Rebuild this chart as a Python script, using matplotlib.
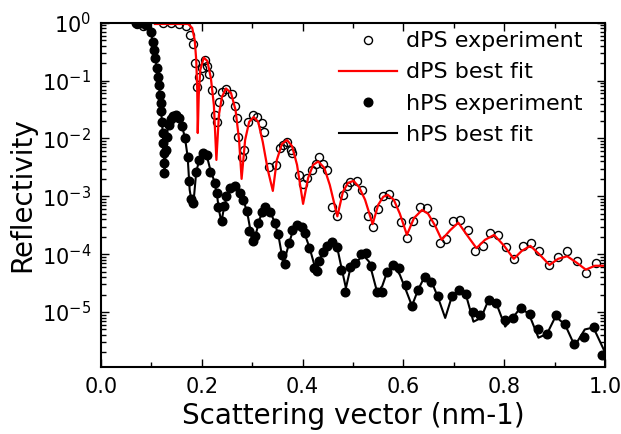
import matplotlib
matplotlib.use("Agg")
import matplotlib.pyplot as plt
from matplotlib.ticker import MultipleLocator, FormatStrFormatter, LogLocator

plt.rcParams['font.family'] = ['DejaVu Sans']

# dPS experiment (open circles)
q_dps_exp = [0.071, 0.083, 0.123, 0.139, 0.155, 0.169, 0.177, 0.182, 0.187, 0.190,
             0.195, 0.200, 0.206, 0.211, 0.215, 0.220, 0.226, 0.230, 0.234, 0.240,
             0.249, 0.259, 0.265, 0.269, 0.272, 0.279, 0.284, 0.292, 0.301, 0.309,
             0.319, 0.323, 0.334, 0.347, 0.355, 0.361, 0.369, 0.377, 0.380, 0.392,
             0.400, 0.409, 0.418, 0.427, 0.433, 0.441, 0.449, 0.458, 0.468, 0.480,
             0.488, 0.495, 0.507, 0.518, 0.530, 0.540, 0.550, 0.559, 0.572, 0.583,
             0.595, 0.607, 0.619, 0.632, 0.646, 0.658, 0.672, 0.684, 0.698, 0.712,
             0.728, 0.742, 0.757, 0.772, 0.787, 0.804, 0.820, 0.837, 0.854, 0.870,
             0.888, 0.906, 0.925, 0.944, 0.962, 0.983]
r_dps_exp = [0.95, 0.88, 0.99, 0.99, 0.95, 0.88, 0.61, 0.43, 0.20, 0.078,
             0.115, 0.165, 0.227, 0.179, 0.130, 0.069, 0.0255, 0.0193, 0.0427, 0.0635,
             0.0716, 0.0587, 0.0364, 0.0226, 0.0106, 0.0048, 0.0063, 0.0193, 0.0255, 0.0235,
             0.0185, 0.0130, 0.0032, 0.0035, 0.0069, 0.0077, 0.0087, 0.0063, 0.0056, 0.0023,
             0.0016, 0.0021, 0.0029, 0.0036, 0.0048, 0.0036, 0.0028, 6.6e-4, 4.6e-4, 1.06e-3,
             1.48e-3, 1.74e-3, 1.85e-3, 1.29e-3, 4.6e-4, 3.0e-4, 6.1e-4, 1.02e-3, 1.10e-3, 7.7e-4,
             3.6e-4, 1.9e-4, 3.7e-4, 6.5e-4, 6.3e-4, 3.6e-4, 1.55e-4, 1.82e-4, 3.7e-4, 3.9e-4,
             2.6e-4, 1.14e-4, 1.37e-4, 2.3e-4, 2.15e-4, 1.34e-4, 8.1e-5, 1.37e-4, 1.57e-4, 1.14e-4,
             6.4e-5, 9.0e-5, 1.13e-4, 7.6e-5, 4.8e-5, 6.9e-5]

# dPS best fit (red line)
q_dps_fit = [0.107, 0.173, 0.181, 0.186, 0.189, 0.191, 0.192, 0.194, 0.197, 0.204,
             0.211, 0.218, 0.224, 0.229, 0.234, 0.240, 0.248, 0.258, 0.267, 0.274,
             0.279, 0.286, 0.294, 0.303, 0.312, 0.321, 0.331, 0.341, 0.349, 0.359,
             0.369, 0.379, 0.389, 0.401, 0.411, 0.421, 0.431, 0.443, 0.454, 0.469,
             0.480, 0.490, 0.501, 0.512, 0.524, 0.539, 0.550, 0.560, 0.569, 0.581,
             0.593, 0.607, 0.621, 0.637, 0.649, 0.663, 0.676, 0.693, 0.709, 0.726,
             0.745, 0.762, 0.780, 0.800, 0.819, 0.835, 0.852, 0.871, 0.890, 0.907,
             0.925, 0.944, 0.962, 0.980, 1.000]
r_dps_fit = [0.95, 0.95, 0.81, 0.50, 0.227, 0.069, 0.0124, 0.0564, 0.152, 0.25,
             0.218, 0.111, 0.0379, 0.00425, 0.0255, 0.052, 0.073, 0.061, 0.031, 0.0094,
             0.0020, 0.0094, 0.0193, 0.0235, 0.0193, 0.0087, 0.00286, 0.00124, 0.00426, 0.0080,
             0.0094, 0.0074, 0.0035, 0.00074, 0.00208, 0.0035, 0.0040, 0.0031, 0.00157, 0.00045,
             0.00119, 0.0017, 0.00185, 0.00145, 0.00087, 0.00033, 0.00071, 0.00098, 0.00106, 0.00087,
             0.00050, 0.000215, 0.00042, 0.00058, 0.00050, 0.00031, 0.000177, 0.00026, 0.00035, 0.000215,
             0.000127, 0.000177, 0.000215, 0.000139, 8.3e-5, 1.14e-4, 1.39e-4, 9.7e-5, 6.5e-5, 8.3e-5,
             9.2e-5, 7.1e-5, 5.4e-5, 6.3e-5, 6.3e-5]

# hPS experiment (filled circles)
q_hps_exp = [0.069, 0.079, 0.089, 0.099, 0.103, 0.105, 0.107, 0.111, 0.114, 0.116,
             0.117, 0.119, 0.120, 0.122, 0.123, 0.124, 0.125, 0.126, 0.126, 0.129,
             0.131, 0.134, 0.138, 0.143, 0.149, 0.155, 0.161, 0.167, 0.172, 0.174,
             0.178, 0.183, 0.189, 0.195, 0.203, 0.210, 0.216, 0.226, 0.230, 0.233,
             0.240, 0.245, 0.249, 0.256, 0.266, 0.276, 0.282, 0.289, 0.294, 0.301,
             0.306, 0.312, 0.319, 0.325, 0.335, 0.345, 0.352, 0.359, 0.366, 0.374,
             0.380, 0.388, 0.398, 0.405, 0.413, 0.422, 0.429, 0.433, 0.440, 0.449,
             0.459, 0.468, 0.476, 0.485, 0.494, 0.505, 0.515, 0.525, 0.536, 0.547,
             0.557, 0.568, 0.579, 0.591, 0.605, 0.617, 0.630, 0.642, 0.655, 0.668,
             0.696, 0.710, 0.725, 0.739, 0.753, 0.769, 0.784, 0.801, 0.817, 0.833,
             0.851, 0.868, 0.885, 0.902, 0.921, 0.939, 0.958, 0.978, 0.995]
r_hps_exp = [0.99, 0.97, 0.93, 0.69, 0.46, 0.34, 0.25, 0.165, 0.115, 0.084,
             0.056, 0.041, 0.030, 0.0193, 0.0125, 0.0084, 0.0056, 0.0038, 0.0025, 0.0063,
             0.0106, 0.0171, 0.0217, 0.0245, 0.0255, 0.0226, 0.0164, 0.0102, 0.0048, 0.00185,
             0.00090, 0.00077, 0.00264, 0.00425, 0.0056, 0.0052, 0.00264, 0.0017, 0.00114, 0.00066,
             0.00038, 0.00068, 0.00102, 0.0014, 0.00151, 0.00114, 0.00087, 0.00056, 0.00025, 0.00017,
             0.00021, 0.00035, 0.00054, 0.00066, 0.00054, 0.00034, 0.00022, 9.7e-5, 6.8e-5, 1.55e-4,
             2.6e-4, 3.2e-4, 3.0e-4, 2.3e-4, 1.27e-4, 5.7e-5, 5.2e-5, 7.7e-5, 1.11e-4, 1.39e-4,
             1.6e-4, 1.35e-4, 5.4e-5, 2.2e-5, 5.9e-5, 7.0e-5, 1.02e-4, 1.05e-4, 6.3e-5, 2.2e-5,
             2.2e-5, 4.9e-5, 6.5e-5, 5.7e-5, 2.95e-5, 1.26e-5, 2.4e-5, 4.0e-5, 3.3e-5, 1.9e-5,
             1.9e-5, 2.45e-5, 2.06e-5, 1.0e-5, 8.8e-6, 1.64e-5, 1.46e-5, 7.3e-6, 7.9e-6, 1.17e-5,
             9.3e-6, 5.0e-6, 4.1e-6, 8.8e-6, 6.3e-6, 2.8e-6, 3.7e-6, 5.6e-6, 1.8e-6]

# hPS best fit (black line)
q_hps_fit = [0.069, 0.093, 0.099, 0.105, 0.111, 0.117, 0.121, 0.124, 0.126, 0.129,
             0.133, 0.139, 0.147, 0.155, 0.161, 0.167, 0.172, 0.176, 0.180, 0.184,
             0.189, 0.195, 0.203, 0.210, 0.217, 0.224, 0.230, 0.234, 0.239, 0.244,
             0.250, 0.258, 0.266, 0.276, 0.284, 0.291, 0.301, 0.308, 0.314, 0.325,
             0.335, 0.345, 0.353, 0.362, 0.373, 0.381, 0.391, 0.403, 0.414, 0.427,
             0.434, 0.443, 0.454, 0.468, 0.476, 0.486, 0.496, 0.508, 0.520, 0.532,
             0.548, 0.558, 0.568, 0.583, 0.593, 0.605, 0.617, 0.629, 0.641, 0.657,
             0.669, 0.683, 0.696, 0.711, 0.724, 0.739, 0.754, 0.769, 0.784, 0.802,
             0.817, 0.832, 0.849, 0.868, 0.885, 0.902, 0.921, 0.940, 0.960, 0.977,
             0.998]
r_hps_fit = [1.0, 0.95, 0.72, 0.34, 0.165, 0.056, 0.0193, 0.0078, 0.0023, 0.0069,
             0.0171, 0.0235, 0.0265, 0.0226, 0.0164, 0.0098, 0.0048, 0.00129, 0.00080, 0.00087,
             0.00264, 0.00425, 0.0059, 0.0050, 0.00286, 0.00192, 0.0011, 0.00058, 0.00036, 0.00063,
             0.00102, 0.0014, 0.00157, 0.00119, 0.00080, 0.00048, 0.000157, 0.000233, 0.00039, 0.00066,
             0.00056, 0.00035, 0.00019, 6.8e-5, 1.51e-4, 2.6e-4, 3.5e-4, 2.4e-4, 1.28e-4, 5.0e-5,
             8.0e-5, 1.23e-4, 1.66e-4, 1.39e-4, 6.5e-5, 2.6e-5, 6.3e-5, 7.4e-5, 9.7e-5, 7.4e-5,
             2.2e-5, 2.8e-5, 5.0e-5, 6.0e-5, 4.4e-5, 2.4e-5, 1.28e-5, 2.4e-5, 3.9e-5, 3.2e-5,
             1.76e-5, 7.9e-6, 1.83e-5, 2.4e-5, 2.0e-5, 6.8e-6, 7.9e-6, 1.62e-5, 1.44e-5, 5.6e-6,
             7.9e-6, 1.18e-5, 9.3e-6, 3.6e-6, 4.2e-6, 8.4e-6, 6.0e-6, 2.6e-6, 5.0e-6, 5.4e-6,
             2.2e-6]

fig = plt.figure(figsize=(6.21, 4.34), dpi=100)
ax = fig.add_axes([0.1626, 0.1544, 0.8116, 0.7933])

ax.plot(q_dps_exp, r_dps_exp, 'o', mfc='none', mec='black', ms=5.8, mew=1.0,
        label='dPS experiment')
ax.plot(q_dps_fit, r_dps_fit, '-', color='red', lw=1.6, label='dPS best fit')
ax.plot(q_hps_exp, r_hps_exp, 'o', mfc='black', mec='black', ms=6.2,
        label='hPS experiment')
ax.plot(q_hps_fit, r_hps_fit, '-', color='black', lw=1.5, label='hPS best fit')

ax.set_yscale('log')
ax.set_xlim(0.0, 1.0)
ax.set_ylim(10 ** -5.95, 1.0)

ax.xaxis.set_major_locator(MultipleLocator(0.2))
ax.xaxis.set_minor_locator(MultipleLocator(0.1))
ax.xaxis.set_major_formatter(FormatStrFormatter('%.1f'))
ax.yaxis.set_major_locator(LogLocator(base=10, numticks=10))
ax.yaxis.set_minor_locator(LogLocator(base=10, subs=range(2, 10), numticks=20))

ax.tick_params(which='both', direction='in', top=True, right=True, width=1.0)
ax.tick_params(which='major', length=6, labelsize=15, pad=7)
ax.tick_params(which='minor', length=3.5)
for sp in ax.spines.values():
    sp.set_linewidth(1.5)

ax.set_xlabel('Scattering vector (nm-1)', fontsize=20, labelpad=4)
ax.set_ylabel('Reflectivity', fontsize=20, labelpad=4)

ax.legend(loc='upper right', bbox_to_anchor=(0.955, 0.975), frameon=False,
          fontsize=16, handlelength=2.6, handletextpad=0.4, labelspacing=0.5,
          borderpad=0, borderaxespad=0)

fig.savefig('out.png', dpi=100)
